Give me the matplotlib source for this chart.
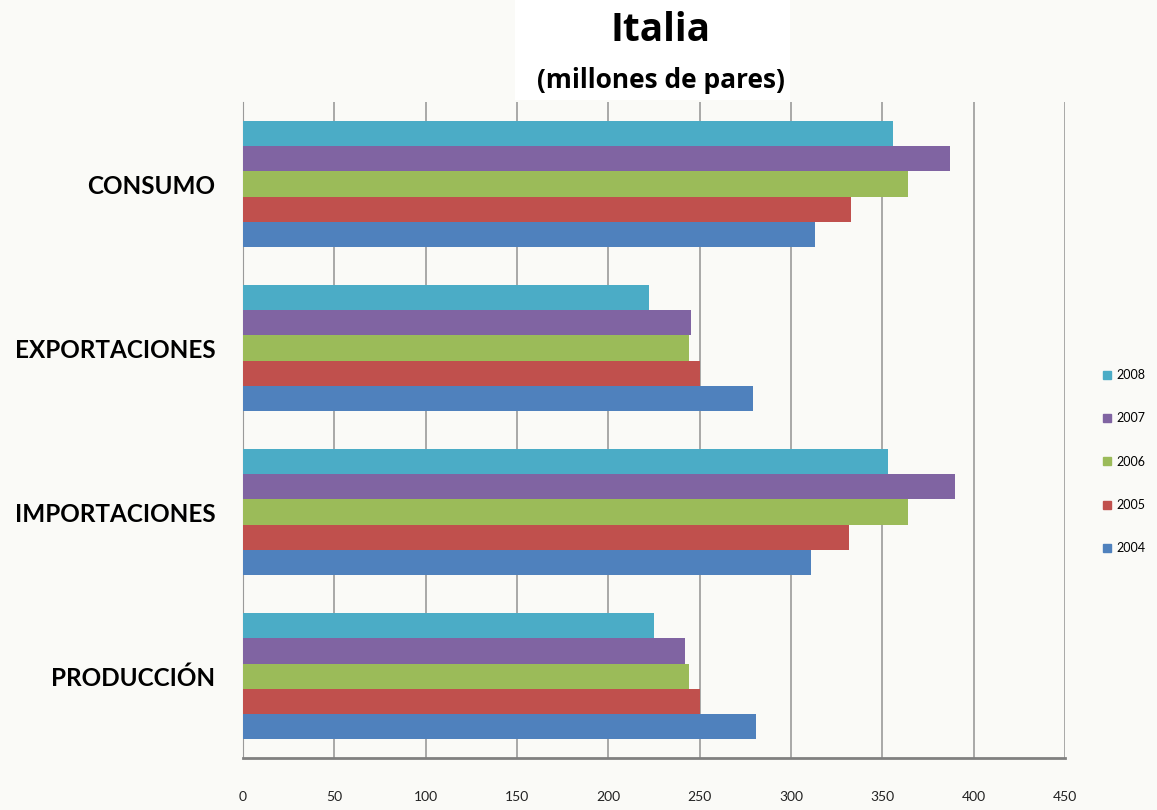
import numpy as np
import matplotlib.pyplot as plt
from matplotlib.patches import Patch, Rectangle

# data
categories = ['PRODUCCIÓN', 'IMPORTACIONES', 'EXPORTACIONES', 'CONSUMO']
years = ['2004', '2005', '2006', '2007', '2008']
v2004 = [281, 311, 279, 313]
v2005 = [250, 332, 250, 333]
v2006 = [244, 364, 244, 364]
v2007 = [242, 390, 245, 387]
v2008 = [225, 353, 222, 356]
colors = ['#4f81bd', '#c0504d', '#9bbb59', '#8064a2', '#4bacc6']
x_ticks = [0, 50, 100, 150, 200, 250, 300, 350, 400, 450]

series = [v2004, v2005, v2006, v2007, v2008]
bg = '#fafaf7'

fig = plt.figure(figsize=(11.57, 8.1), dpi=100, facecolor=bg)
# white box behind the title
fig.patches.append(Rectangle((0.445, 0.877), 0.238, 0.123, transform=fig.transFigure,
                             facecolor='white', edgecolor='none', zorder=0))
ax = fig.add_axes([0.210, 0.064, 0.7105, 0.810])
ax.set_facecolor(bg)

h = 0.154
pos = np.arange(len(categories))
for i, vals in enumerate(series):
    ax.barh(pos + (i - 2) * h, vals, height=h, color=colors[i], zorder=3)

ax.set_xlim(0, 450)
ax.set_ylim(-0.5, 3.5)
ax.set_xticks(x_ticks)
ax.set_xticklabels([str(t) for t in x_ticks], fontsize=10, family='Lato', color='#222222')
ax.tick_params(axis='x', length=0, pad=24)
ax.set_yticks(pos)
ax.set_yticklabels(categories, fontsize=17.5, fontweight='bold', family='Lato')
ax.tick_params(axis='y', length=0, pad=20)
ax.grid(axis='x', color='#9a9a9a', linewidth=1.2, zorder=0)
for s in ['top', 'right']:
    ax.spines[s].set_visible(False)
ax.spines['left'].set_color('#9a9a9a')
ax.spines['bottom'].set_color('#808080')
ax.spines['bottom'].set_linewidth(2)

fig.text(0.571, 0.962, 'Italia', ha='center', va='center', fontsize=28,
         fontweight='bold', family='Open Sans')
fig.text(0.571, 0.900, '(millones de pares)', ha='center', va='center',
         fontsize=19, fontweight='bold', family='Open Sans')

handles = [Patch(color=colors[i], label=years[i]) for i in range(4, -1, -1)]
leg = fig.legend(handles=handles, loc='center left', bbox_to_anchor=(0.944, 0.43),
                 frameon=False, handlelength=0.6, handleheight=0.6,
                 labelspacing=2.5, handletextpad=0.4,
                 prop={'family': 'Lato', 'size': 9})

fig.savefig('out.png', dpi=100, facecolor=bg)
